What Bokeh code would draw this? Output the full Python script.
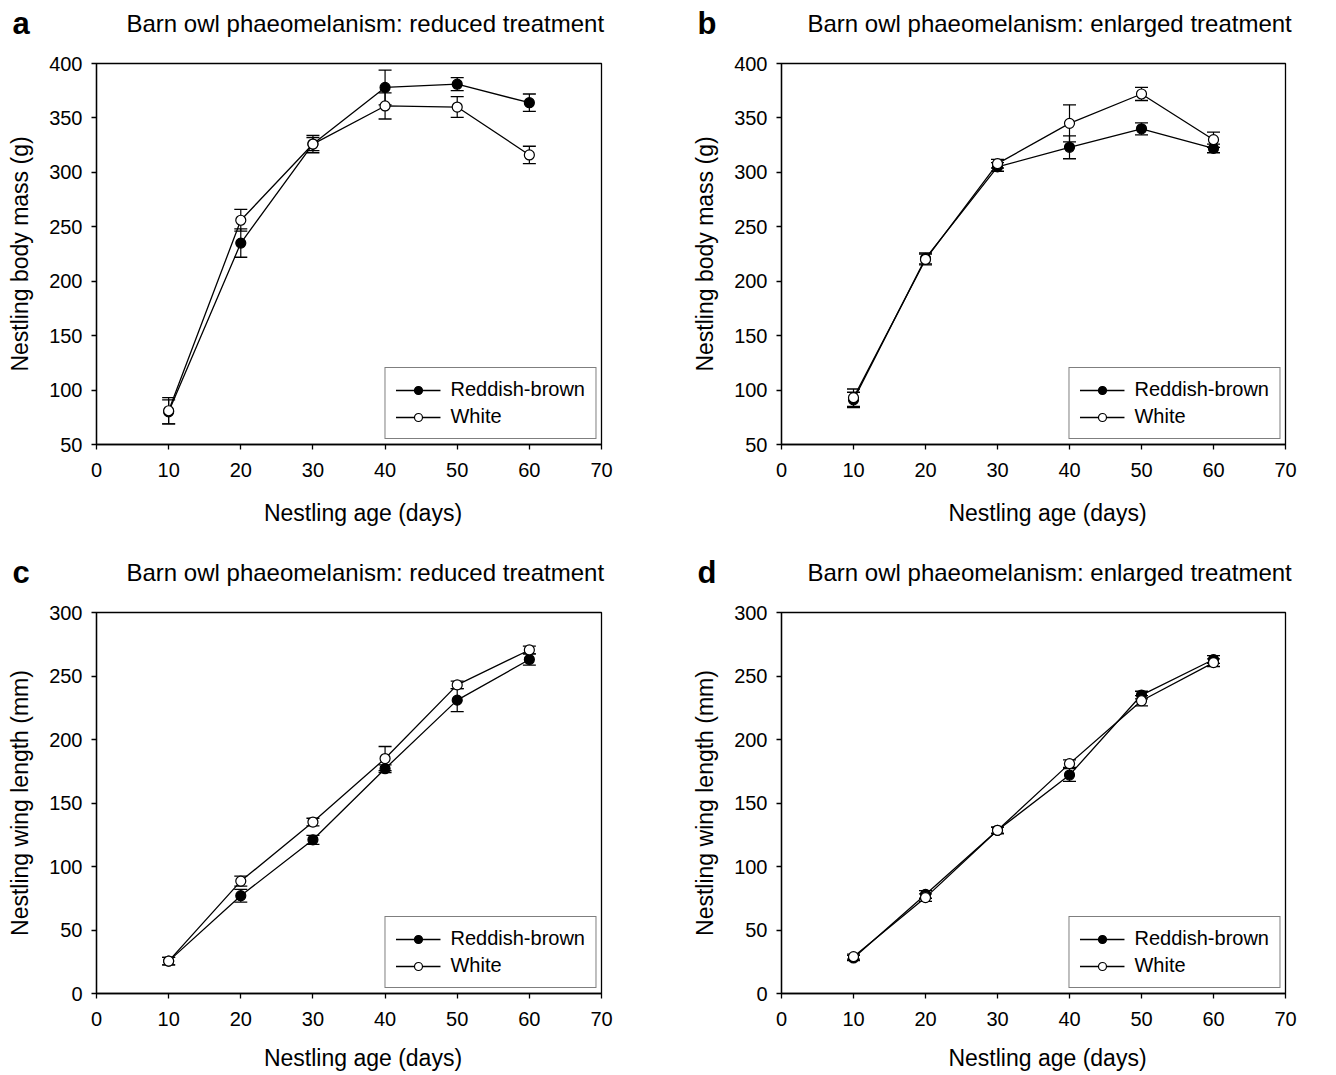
from bokeh.plotting import figure
from bokeh.models import Range1d, Label, Legend, LegendItem, FixedTicker
from bokeh.layouts import column, row
from bokeh.embed import file_html
from bokeh.resources import INLINE

FONT = "Liberation Sans"

ages = [10, 20, 30, 40, 50, 60]

a_reddish = [80, 235, 326, 378, 381, 364]
a_reddish_se = [11, 13, 8, 16, 6, 8]
a_white = [81, 256, 326, 361, 360, 316]
a_white_se = [12, 10, 6, 12, 9.5, 8]

b_reddish = [91, 221, 305, 323, 340, 322]
b_reddish_se = [7, 5, 4, 10.5, 5.5, 4]
b_white = [93, 220, 308, 345, 372, 330]
b_white_se = [8, 5, 4, 17, 6, 7]

c_reddish = [25.5, 77, 121, 177, 231, 263]
c_reddish_se = [3, 5, 3.5, 3, 9, 4.5]
c_white = [25.5, 88.5, 135, 185, 243, 270.5]
c_white_se = [3, 4, 3, 9.5, 3, 3]

d_reddish = [28, 78, 128.5, 172, 235, 263]
d_reddish_se = [2, 3, 2.5, 5, 3, 3]
d_white = [29, 75.5, 128.5, 181, 230.5, 260.5]
d_white_se = [2, 3, 2.5, 3, 4, 3]

x_ticks = [0, 10, 20, 30, 40, 50, 60, 70]
mass_ticks = [50, 100, 150, 200, 250, 300, 350, 400]
wing_ticks = [0, 50, 100, 150, 200, 250, 300]

series_names = ["Reddish-brown", "White"]
title_reduced = "Barn owl phaeomelanism: reduced treatment"
title_enlarged = "Barn owl phaeomelanism: enlarged treatment"
xlabel = "Nestling age (days)"
ylabel_mass = "Nestling body mass (g)"
ylabel_wing = "Nestling wing length (mm)"


def panel(letter, title, ylabel, yticks, red, red_se, wht, wht_se,
          bl, br, bt, bb, fw, fh, title_dx, xlab_dy):
    p = figure(output_backend="svg", toolbar_location=None,
               frame_width=fw, frame_height=fh,
               min_border_left=bl, min_border_right=br,
               min_border_top=bt, min_border_bottom=bb,
               x_range=Range1d(x_ticks[0], x_ticks[-1]),
               y_range=Range1d(yticks[0], yticks[-1]))
    p.background_fill_color = "white"
    p.border_fill_color = "white"
    p.outline_line_color = "black"
    p.outline_line_width = 1.3
    p.xgrid.visible = False
    p.ygrid.visible = False
    p.xaxis.ticker = FixedTicker(ticks=x_ticks)
    p.yaxis.ticker = FixedTicker(ticks=yticks)
    p.yaxis.axis_label = ylabel
    for ax in (p.xaxis[0], p.yaxis[0]):
        ax.axis_line_color = "black"
        ax.axis_line_width = 1.3
        ax.major_tick_line_color = "black"
        ax.major_tick_line_width = 1.3
        ax.major_tick_out = 5
        ax.major_tick_in = 0
        ax.minor_tick_line_color = None
        ax.major_label_text_font = FONT
        ax.major_label_text_font_size = "20px"
        ax.major_label_text_color = "black"
        ax.axis_label_text_font = FONT
        ax.axis_label_text_font_size = "23px"
        ax.axis_label_text_font_style = "normal"
        ax.axis_label_text_color = "black"
    p.xaxis.major_label_standoff = 13
    p.yaxis.major_label_standoff = 9
    p.yaxis.axis_label_standoff = 13

    renderers = []
    for ys, se in ((red, red_se), (wht, wht_se)):
        lo = [y - s for y, s in zip(ys, se)]
        hi = [y + s for y, s in zip(ys, se)]
        p.segment(x0=ages, y0=lo, x1=ages, y1=hi, line_color="black", line_width=1.2)
        p.scatter(x=ages, y=lo, marker="dash", size=13, line_color="black", line_width=1.3)
        p.scatter(x=ages, y=hi, marker="dash", size=13, line_color="black", line_width=1.3)
    for ys in (red, wht):
        ln = p.line(x=ages, y=ys, line_color="black", line_width=1.3)
        renderers.append([ln])
    for i, (ys, fill) in enumerate(((red, "black"), (wht, "white"))):
        sc = p.scatter(x=ages, y=ys, marker="circle", size=10, fill_color=fill,
                       line_color="black", line_width=1.2)
        renderers[i].append(sc)

    legend = Legend(items=[LegendItem(label=series_names[i], renderers=renderers[i]) for i in range(2)],
                    location="bottom_right", margin=5, padding=10, spacing=4,
                    glyph_width=45, glyph_height=20, label_height=20, label_standoff=10,
                    label_text_font=FONT, label_text_font_size="20px", label_text_color="black",
                    border_line_color="black", border_line_width=1.2,
                    background_fill_color="white", background_fill_alpha=1.0)
    p.add_layout(legend, "center")

    # x-axis title, a little right of the frame centre as in the original
    p.add_layout(Label(x=fw / 2 + 14, y=xlab_dy, x_units="screen", y_units="screen",
                       text=xlabel, text_font=FONT, text_font_size="23px",
                       text_color="black", text_baseline="alphabetic", text_align="center"), "below")

    p.add_layout(Label(x=title_dx, y=40, x_units="screen", y_units="screen",
                       text=title, text_font=FONT, text_font_size="24px",
                       text_color="black", text_baseline="alphabetic", text_align="left"), "above")
    p.add_layout(Label(x=-84, y=13.5, x_units="screen", y_units="screen",
                       text=letter, text_font=FONT, text_font_size="31px", text_font_style="bold",
                       text_color="black", text_baseline="alphabetic", text_align="left"), "above")
    return p


pa = panel("a", title_reduced, ylabel_mass, mass_ticks, a_reddish, a_reddish_se, a_white, a_white_se,
           96, 88, 63, 96, 505, 381, 30, -7)
pb = panel("b", title_enlarged, ylabel_mass, mass_ticks, b_reddish, b_reddish_se, b_white, b_white_se,
           90, 38, 63, 96, 504, 381, 26, -7)
pc = panel("c", title_reduced, ylabel_wing, wing_ticks, c_reddish, c_reddish_se, c_white, c_white_se,
           96, 88, 72, 79, 505, 381, 30, -3)
pd = panel("d", title_enlarged, ylabel_wing, wing_ticks, d_reddish, d_reddish_se, d_white, d_white_se,
           90, 38, 72, 79, 504, 381, 26, -3)

layout = column(row(pa, pb), row(pc, pd))
open("out.html", "w").write(file_html(layout, INLINE))
